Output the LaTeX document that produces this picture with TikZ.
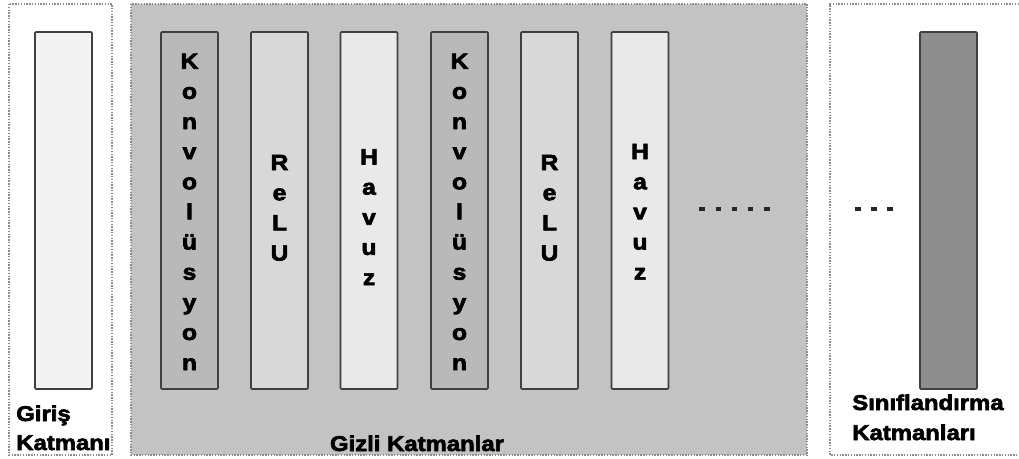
\documentclass[tikz,border=0pt]{standalone}
\usepackage{fontspec}
\setmainfont{Liberation Sans}
\newfontfamily\lblfont[FakeBold=3,FakeStretch=1.12]{Liberation Sans Bold}
\definecolor{hidbg}{HTML}{C3C3C3}
\definecolor{konvfill}{HTML}{B9B9B9}
\definecolor{relufill}{HTML}{D8D8D8}
\definecolor{havuzfill}{HTML}{E9E9E9}
\definecolor{inputfill}{HTML}{F3F3F3}
\definecolor{clsfill}{HTML}{8E8E8E}

\begin{document}
\begin{tikzpicture}[x=0.75pt,y=-0.75pt,
    group/.style={draw=gray!90, densely dotted, line width=1.1pt},
    layer/.style={draw=black!75, line width=1.2pt, rounded corners=0.8pt,
      minimum width=42.75pt, minimum height=267.75pt, inner sep=0pt},
    letters/.style={align=center, font=\lblfont\fontsize{16.5}{22.6}\selectfont},
    caption/.style={font=\lblfont\fontsize{16}{20}\selectfont, inner sep=0pt}]
  \useasboundingbox (0,0) rectangle (1019,459);

  % groups
  \draw[group] (9,4) rectangle (112,455);
  \draw[group, fill=hidbg] (131,4) rectangle (807,455);
  \draw[group] (1019,4) -- (830,4) -- (830,455) -- (1019,455);

  % input and output layers
  \node[layer, fill=inputfill] (giris) at (63.5,210.5) {};
  \node[layer, fill=clsfill] (sinif) at (948.5,210.5) {};

  % hidden layers
  \node[layer, fill=konvfill] (konv1) at (189.5,210.5) {};
  \node[layer, fill=relufill] (relu1) at (279.5,210.5) {};
  \node[layer, fill=havuzfill] (havuz1) at (369,210.5) {};
  \node[layer, fill=konvfill] (konv2) at (459.5,210.5) {};
  \node[layer, fill=relufill] (relu2) at (549.5,210.5) {};
  \node[layer, fill=havuzfill] (havuz2) at (640,210.5) {};

  \foreach \n in {konv1,konv2}
    \node[letters] at ([yshift=-1pt]\n) {K\\o\\n\\v\\o\\l\\ü\\s\\y\\o\\n};
  \foreach \n in {relu1,relu2}
    \node[letters] at ([yshift=2pt]\n) {R\\e\\L\\U};
  \node[letters] at ([yshift=-5pt]havuz1) {H\\a\\v\\u\\z};
  \node[letters] at ([yshift=-1pt]havuz2) {H\\a\\v\\u\\z};

  % ellipsis
  \foreach \x in {702,718.25,734.5,750.75,767}
    \fill[black!85] (\x-2.6,207) rectangle (\x+2.6,211.5);
  \foreach \x in {858,874,890}
    \fill[black!85] (\x-2.6,207) rectangle (\x+2.6,211.5);

  % captions
  \node[caption, anchor=base west] (girislbl) at (16,421) {Giriş};
  \node[caption, anchor=base west] at (16,450) {Katmanı};
  \node[caption, anchor=base] (gizlilbl) at (417,451) {Gizli Katmanlar};
  \node[caption, anchor=base west] (siniflbl) at (852,410) {Sınıflandırma};
  \node[caption, anchor=base west] at (852,440) {Katmanları};
\end{tikzpicture}
\end{document}
